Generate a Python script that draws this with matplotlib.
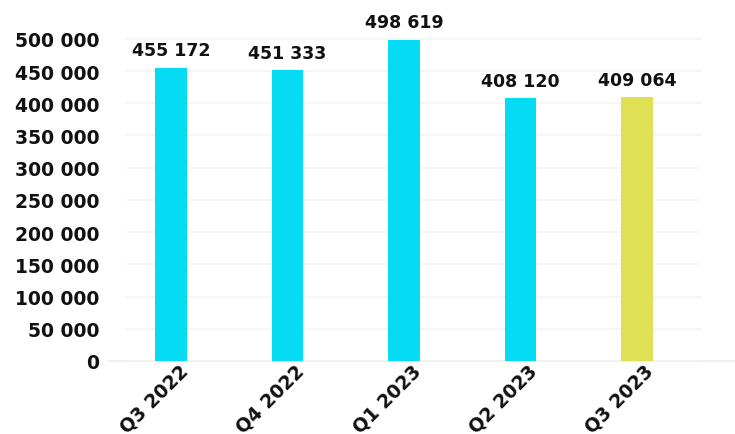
import matplotlib.pyplot as plt
from matplotlib.ticker import FuncFormatter
from matplotlib.transforms import ScaledTranslation

quarters = ['Q3 2022', 'Q4 2022', 'Q1 2023', 'Q2 2023', 'Q3 2023']
values = [455172, 451333, 498619, 408120, 409064]
bar_colors = ['#05dbf2', '#05dbf2', '#05dbf2', '#05dbf2', '#e0e055']


def fmt(v):
    return f'{int(v):,}'.replace(',', ' ')


plt.rcParams['font.family'] = ['DejaVu Sans']
fig = plt.figure(figsize=(7.35, 4.35), dpi=100)
ax = fig.add_axes([0.171, 0.168, 0.783, 0.77])

x = range(len(quarters))
ax.bar(x, values, width=0.27, color=bar_colors, zorder=2)
for i, v in enumerate(values):
    ax.annotate(fmt(v), (i, v), xytext=(0, 6), textcoords='offset points',
                ha='center', va='bottom', fontsize=12.5, fontweight='bold', color='#111111')

ax.set_ylim(0, 520000)
ax.set_xlim(-0.39, 4.55)
ax.set_yticks(range(0, 500001, 50000))
ax.yaxis.set_major_formatter(FuncFormatter(lambda v, p: fmt(v)))
ax.set_xticks(list(x))
ax.set_xticklabels(quarters, rotation=45, ha='right', rotation_mode='anchor')
ax.tick_params(length=0, labelsize=13.5, colors='#111111')
ax.tick_params(axis='y', pad=19)
ax.tick_params(axis='x', pad=0)
shift = ScaledTranslation(5 / 72, 0, fig.dpi_scale_trans)
for lab in ax.get_xticklabels():
    lab.set_transform(lab.get_transform() + shift)
for lab in ax.get_xticklabels() + ax.get_yticklabels():
    lab.set_fontweight('bold')

ax.grid(axis='y', color='#f3f3f3', linewidth=1.2, zorder=0)
for s in ax.spines.values():
    s.set_visible(False)
ax.plot([-0.03, 1.06], [0, 0], transform=ax.get_yaxis_transform(), color='#eeeeee',
        linewidth=1.2, clip_on=False, zorder=1)

fig.savefig('out.png', dpi=100)
